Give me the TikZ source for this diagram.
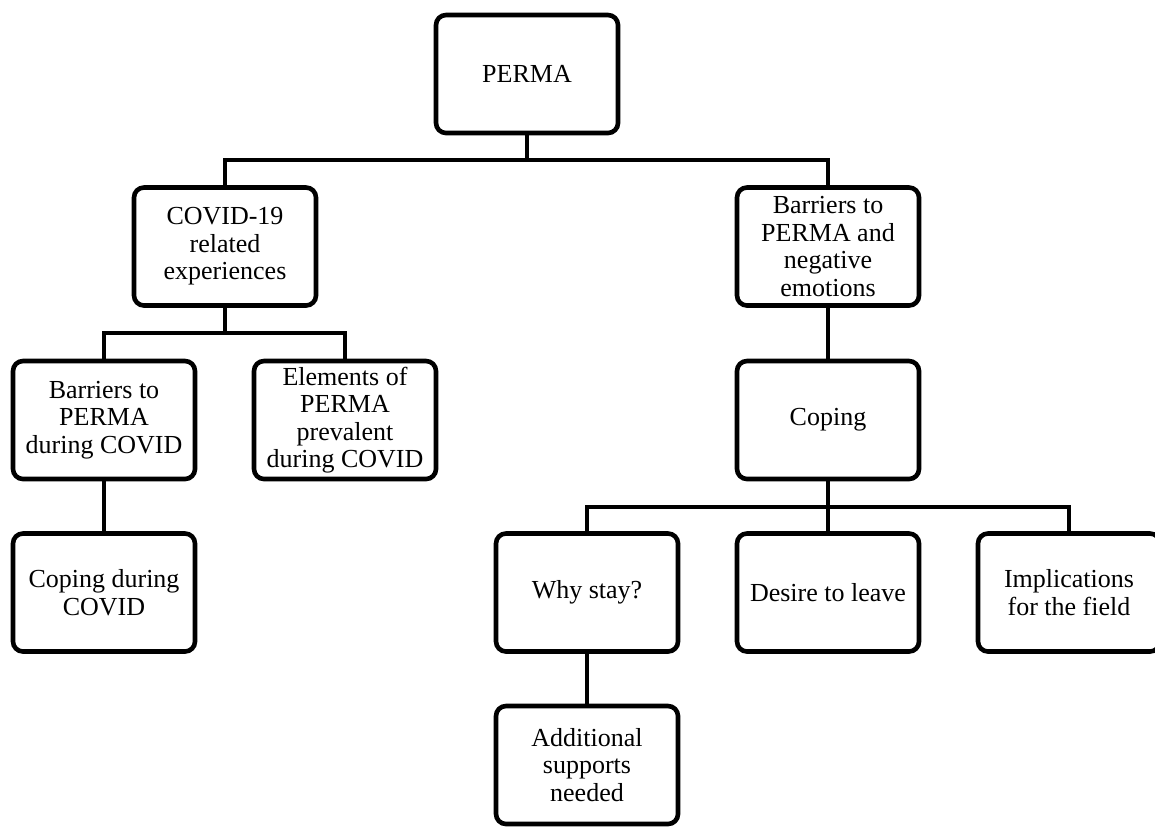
\documentclass[tikz,border=0pt]{standalone}
\usepackage{fontspec}
\setmainfont{Liberation Serif}

\begin{document}
\begin{tikzpicture}[x=0.5pt,y=-0.5pt,
  themeBox/.style={draw,line width=2.3pt,rounded corners=5pt,align=center,
    minimum width=91pt,minimum height=59pt,inner sep=2pt,
    font=\fontsize{13}{13.75}\selectfont},
  branchLine/.style={line width=2.3pt}]
  \useasboundingbox (0,0) rectangle (1155,827);
  % Themes
  \node[themeBox] (perma) at (527,74) {PERMA};
  \node[themeBox] (covid) at (225,246.5) {COVID-19\\related\\experiences};
  \node[themeBox] (barNeg) at (828,246.5) {Barriers to\\PERMA and\\negative\\emotions};
  \node[themeBox] (barCovid) at (104,420) {Barriers to\\PERMA\\during COVID};
  \node[themeBox] (elements) at (345,420) {Elements of\\PERMA\\prevalent\\during COVID};
  \node[themeBox] (coping) at (828,420) {Coping};
  \node[themeBox] (copCovid) at (104,592.5) {Coping during\\COVID};
  \node[themeBox] (whyStay) at (587,592.5) {Why stay?};
  \node[themeBox] (desire) at (828,592.5) {Desire to leave};
  \node[themeBox] (implic) at (1069,592.5) {Implications\\for the field};
  \node[themeBox] (addSup) at (587,765) {Additional\\supports\\needed};
  % Branch points
  \coordinate (jTop) at (527,160);
  \coordinate (jCovid) at (225,333);
  \coordinate (jCoping) at (828,507);
  % Connectors
  \draw[branchLine] (perma.south) -- (jTop);
  \draw[branchLine] (covid.north) |- (jTop) -| (barNeg.north);
  \draw[branchLine] (covid.south) -- (jCovid);
  \draw[branchLine] (barCovid.north) |- (jCovid) -| (elements.north);
  \draw[branchLine] (barCovid.south) -- (copCovid.north);
  \draw[branchLine] (barNeg.south) -- (coping.north);
  \draw[branchLine] (coping.south) -- (desire.north);
  \draw[branchLine] (whyStay.north) |- (jCoping) -| (implic.north);
  \draw[branchLine] (whyStay.south) -- (addSup.north);
\end{tikzpicture}
\end{document}
